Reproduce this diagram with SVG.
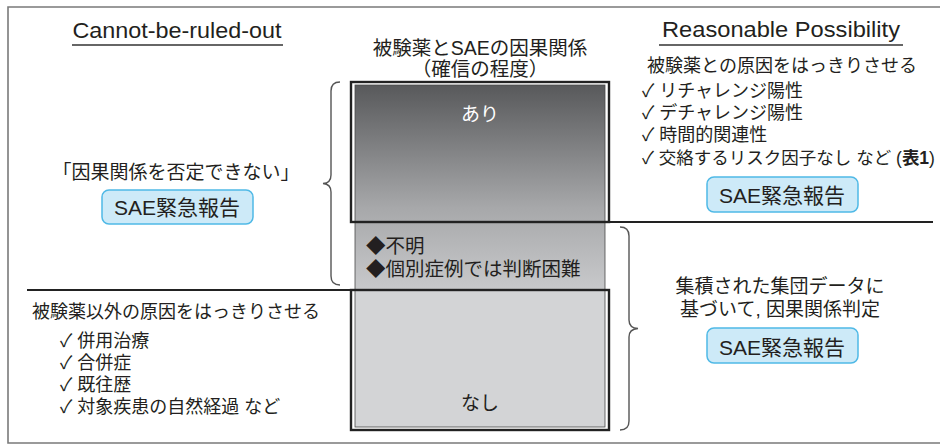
<svg xmlns="http://www.w3.org/2000/svg" width="940" height="445" viewBox="0 0 940 445">
<style>
text{font-family:"Liberation Sans","Noto Sans CJK JP",sans-serif;fill:#231f20}
.t18{font-size:18px}
.t19{font-size:19px}
.h{font-size:22px}
.sae{fill:#cdeaf8;stroke:#4fb9e6;stroke-width:1.5}
.st{font-size:21px;text-anchor:middle}
.brace{fill:none;stroke:#555;stroke-width:1.4}
.frame{fill:none;stroke:#222;stroke-width:2.4}
.rule{stroke:#222;stroke-width:2.2}
</style>
<defs>
<linearGradient id="g" gradientUnits="userSpaceOnUse" x1="0" y1="85" x2="0" y2="290">
<stop offset="0" stop-color="#58595b"/>
<stop offset="0.6" stop-color="#a7a8aa"/>
<stop offset="1" stop-color="#c8c9cb"/>
</linearGradient>
</defs>
<g id="outer-frame">
<path d="M940 7 H8 V443 H940" fill="none" stroke="#7a7a7a" stroke-width="1.6"/>
</g>
<g id="scale">
<rect x="355" y="85" width="250" height="205" fill="url(#g)" stroke="#4a4a4a" stroke-width="0.8"/>
<rect x="355" y="290" width="250" height="137" fill="#d3d4d6" stroke="#4a4a4a" stroke-width="0.8"/>
<rect class="frame" x="351" y="82" width="258" height="140"/>
<rect class="frame" x="351" y="290" width="258" height="140"/>
<text x="480" y="55" text-anchor="middle" style="font-size:19.5px">被験薬とSAEの因果関係</text>
<text x="480" y="76" text-anchor="middle" style="font-size:19.5px">（確信の程度）</text>
<text x="480" y="121" text-anchor="middle" style="font-size:19px;fill:#fff">あり</text>
<text x="366" y="253" style="font-size:19.5px">◆不明</text>
<text x="366" y="276" style="font-size:19.5px">◆個別症例では判断困難</text>
<text x="480" y="410" text-anchor="middle" style="font-size:19px">なし</text>
</g>
<g id="connectors">
<line class="rule" x1="609" y1="222" x2="933" y2="222"/>
<line class="rule" x1="27" y1="290" x2="351" y2="290"/>
<path class="brace" d="M340 82 Q331 82 331 91 L331 175 Q331 183 323 183.5 Q331 184 331 192 L331 276 Q331 285 340 285"/>
<path class="brace" d="M620 227 Q629 227 629 236 L629 320 Q629 328 638 328.5 Q629 329 629 337 L629 421 Q629 430 620 430"/>
</g>
<g id="cannot-be-ruled-out">
<text class="h" x="177" y="38" text-anchor="middle" textLength="209" lengthAdjust="spacingAndGlyphs">Cannot-be-ruled-out</text>
<line x1="72" y1="45" x2="283" y2="45" stroke="#333" stroke-width="1.3"/>
<text x="176" y="179" text-anchor="middle" style="font-size:19px">「因果関係を否定できない」</text>
<rect class="sae" x="102" y="190" width="151" height="34" rx="7"/>
<text class="st" x="177" y="215">SAE緊急報告</text>
</g>
<g id="other-causes">
<text class="t18" x="32" y="318">被験薬以外の原因をはっきりさせる</text>
<text class="t18" x="60" y="347">✓ 併用治療</text>
<text class="t18" x="60" y="369">✓ 合併症</text>
<text class="t18" x="60" y="391">✓ 既往歴</text>
<text class="t18" x="60" y="413">✓ 対象疾患の自然経過  など</text>
</g>
<g id="reasonable-possibility">
<text class="h" x="781" y="37" text-anchor="middle" textLength="238" lengthAdjust="spacingAndGlyphs">Reasonable Possibility</text>
<line x1="659" y1="45" x2="903" y2="45" stroke="#333" stroke-width="1.3"/>
<text class="t18" x="782" y="72" text-anchor="middle">被験薬との原因をはっきりさせる</text>
<text class="t18" x="642" y="97">✓ リチャレンジ陽性</text>
<text class="t18" x="642" y="119">✓ デチャレンジ陽性</text>
<text class="t18" x="642" y="141">✓ 時間的関連性</text>
<text x="642" y="164" style="font-size:17.5px">✓ 交絡するリスク因子なし など (<tspan font-weight="bold">表1</tspan>)</text>
<rect class="sae" x="707" y="177" width="151" height="35" rx="7"/>
<text class="st" x="782" y="203">SAE緊急報告</text>
</g>
<g id="aggregate-data">
<text class="t19" x="780" y="293" text-anchor="middle">集積された集団データに</text>
<text class="t19" x="780" y="316" text-anchor="middle">基づいて, 因果関係判定</text>
<rect class="sae" x="707" y="328" width="151" height="35" rx="7"/>
<text class="st" x="782" y="355">SAE緊急報告</text>
</g>
</svg>
